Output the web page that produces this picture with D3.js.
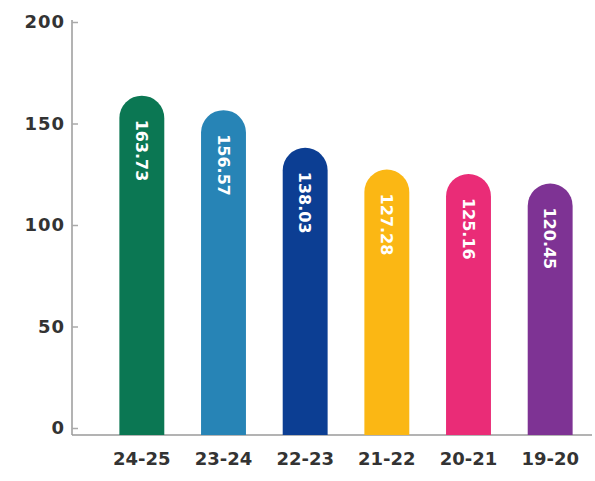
<!DOCTYPE html>
<html><head><meta charset="utf-8">
<script src="https://cdn.jsdelivr.net/npm/d3@7"></script>
<style>body{margin:0;background:#fff}svg{display:block}</style>
</head><body>
<svg id="c" width="595" height="481"></svg>
<script>
const categories = ["24-25","23-24","22-23","21-22","20-21","19-20"];
const values = [163.73,156.57,138.03,127.28,125.16,120.45];
const labels = ["163.73","156.57","138.03","127.28","125.16","120.45"];
const colors = ["#0b7753","#2784b6","#0c3e93","#fbb714","#ea2c77","#7e3394"];
const yTicks = [0,50,100,150,200];

const svg = d3.select("#c");
const x = d3.scaleBand().domain(categories).range([101,591]).paddingInner(0.45).paddingOuter(0.225);
const y = d3.scaleLinear().domain([0,200]).range([428,22]);
const base = 435;

// axes
const yAxis = svg.append("g").attr("transform","translate(72,0)")
  .call(d3.axisRight(y).tickValues(yTicks).tickSize(6).tickFormat(""));
yAxis.select(".domain").attr("d",`M0,20V${base}`).attr("stroke","#9a9a9a").attr("stroke-width",1.5);
yAxis.selectAll(".tick line").attr("stroke","#aaa").attr("stroke-width",1.5);
svg.append("g").selectAll("text").data(yTicks).join("text")
  .attr("x",65).attr("y",d=>y(d)).attr("dy","0.36em").attr("text-anchor","end")
  .attr("font-family","DejaVu Sans").attr("font-weight","bold").attr("font-size",18)
  .attr("letter-spacing",1).attr("fill","#333")
  .text(d=>d);

const xAxis = svg.append("g").attr("transform",`translate(0,${base})`)
  .call(d3.axisBottom(x).tickSize(0).tickPadding(22));
xAxis.select(".domain").attr("d","M72,0H592").attr("stroke","#9a9a9a").attr("stroke-width",1.5);
xAxis.selectAll(".tick text").attr("font-family","DejaVu Sans").attr("font-weight","bold")
  .attr("font-size",18).attr("fill","#333").attr("dy","0.45em");

// bars
const bw = x.bandwidth(), r = bw/2;
svg.append("g").selectAll("path").data(values).join("path")
  .attr("fill",(d,i)=>colors[i])
  .attr("d",(d,i)=>{
    const x0 = x(categories[i]), top = y(d);
    return `M${x0},${base}V${top+r}A${r},${r} 0 0 1 ${x0+bw},${top+r}V${base}Z`;
  });

svg.append("g").selectAll("text").data(values).join("text")
  .attr("transform",(d,i)=>`translate(${x(categories[i])+bw/2},${y(d)+24}) rotate(90)`)
  .attr("dy","0.36em").attr("text-anchor","start")
  .attr("font-family","DejaVu Sans").attr("font-weight","bold").attr("font-size",16).attr("fill","#fff")
  .text((d,i)=>labels[i]);
</script>
</body></html>
